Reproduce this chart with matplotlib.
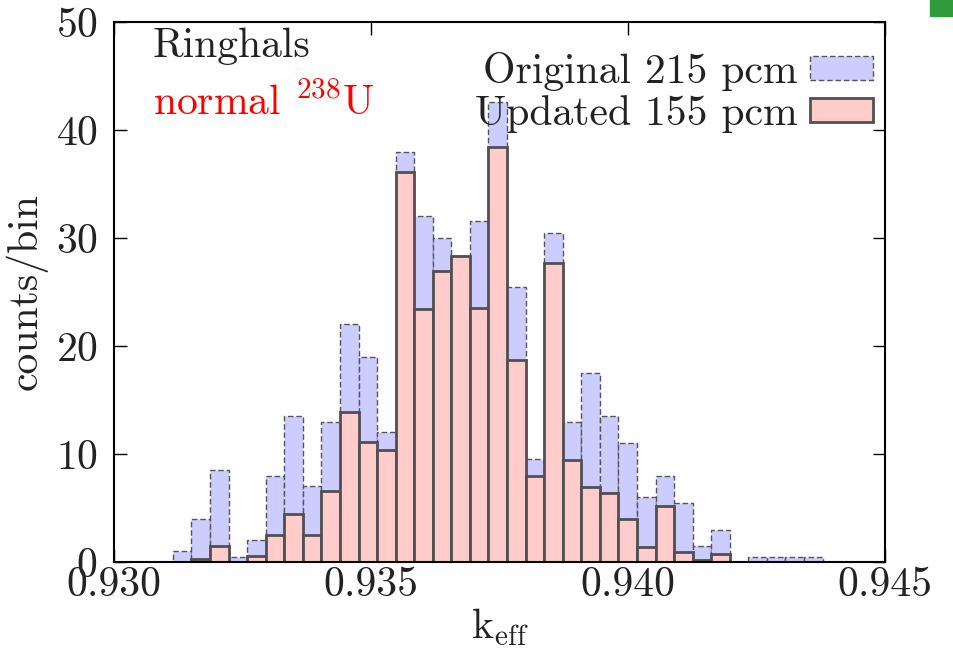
import matplotlib
matplotlib.use("Agg")
import matplotlib.pyplot as plt
import numpy as np

plt.rcParams['font.family'] = 'serif'
plt.rcParams['font.serif'] = ['cmr10']
plt.rcParams['mathtext.fontset'] = 'cm'
plt.rcParams['axes.unicode_minus'] = False
plt.rcParams['axes.formatter.use_mathtext'] = True

# histogram: 35 bins between these k_eff limits
k_min = 0.93114
k_max = 0.94378
n_bins = 35

original = [1.0, 4.0, 8.5, 0.5, 2.0, 8.0, 13.5, 7.0, 13.0, 22.0,
            19.0, 12.0, 38.0, 32.0, 30.0, 28.3, 31.6, 42.6, 25.5, 9.5,
            30.5, 13.0, 17.5, 13.5, 11.0, 6.0, 8.0, 5.5, 1.5, 3.0,
            0.0, 0.5, 0.5, 0.5, 0.5]
updated = [0.0, 0.3, 1.5, 0.0, 0.6, 2.5, 4.4, 2.5, 6.6, 13.9,
           11.1, 10.4, 36.1, 23.4, 26.9, 28.3, 23.5, 38.4, 18.7, 8.0,
           27.7, 9.4, 6.9, 6.4, 4.0, 1.4, 5.2, 0.9, 0.2, 0.7,
           0.0, 0.0, 0.0, 0.0, 0.0]

edges = np.linspace(k_min, k_max, n_bins + 1)
width = edges[1] - edges[0]

fig = plt.figure(figsize=(9.54, 6.57), dpi=100)
ax = fig.add_axes([0.1198, 0.1446, 0.8082, 0.822])

txt = '#222222'
ax.bar(edges[:-1], original, width=width, align='edge', color='#ccccff',
       edgecolor='#555555', linestyle=(0, (4, 2)), linewidth=1.0,
       label='Original 215 pcm', zorder=2)
ax.bar(edges[:-1], updated, width=width, align='edge', color='#ffcccc',
       edgecolor='#505050', linewidth=2.0,
       label='Updated 155 pcm', zorder=3)

ax.set_xlim(0.930, 0.945)
ax.set_ylim(0, 50)
ax.set_xticks([0.930, 0.935, 0.940, 0.945])
ax.set_xticklabels(['0.930', '0.935', '0.940', '0.945'])
ax.set_yticks([0, 10, 20, 30, 40, 50])
ax.tick_params(direction='in', length=9, width=1.0, top=True, right=True,
               labelsize=30, colors='black', labelcolor=txt)
ax.tick_params(axis='x', pad=3)
ax.tick_params(axis='y', pad=12)
for s in ax.spines.values():
    s.set_linewidth(1.5)
    s.set_zorder(5)

ax.set_ylabel('counts/bin', fontsize=30, color=txt, labelpad=6)
ax.set_xlabel(r'$\mathrm{k_{eff}}$', fontsize=30, color=txt, labelpad=2)

ax.text(0.05, 0.99, 'Ringhals', transform=ax.transAxes, fontsize=30,
        color=txt, va='top', ha='left')
ax.text(0.05, 0.887, r'normal $^{238}$U', transform=ax.transAxes,
        fontsize=30, color='red', va='top', ha='left')

leg = ax.legend(loc='upper right', frameon=False, fontsize=30,
                markerfirst=False, handlelength=1.5, handleheight=0.5,
                handletextpad=0.3, labelspacing=0.1,
                borderaxespad=0.0, bbox_to_anchor=(1.005, 0.976))
for t in leg.get_texts():
    t.set_color(txt)

# green fragment at the top right corner of the slide
fig.patches.append(plt.Rectangle((0.975, 0.975), 0.03, 0.03,
                                 transform=fig.transFigure,
                                 color='#2e9a3a', zorder=0))

fig.savefig('out.png', dpi=100)
